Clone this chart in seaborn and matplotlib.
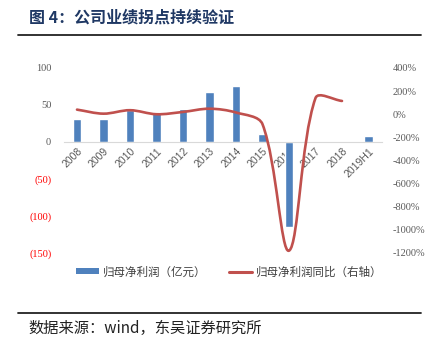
import numpy as np
import pandas as pd
import matplotlib
matplotlib.use("Agg")
import matplotlib.pyplot as plt
from matplotlib.path import Path
from matplotlib.patches import PathPatch
from matplotlib.lines import Line2D
from matplotlib.patches import Patch
import seaborn as sns

# ---- data ----
categories = ["2008", "2009", "2010", "2011", "2012", "2013", "2014",
              "2015", "2016", "2017", "2018", "2019H1"]
net_profit = [31, 31, 43, 40.5, 45, 67, 75, 10.5, -114.5, np.nan, np.nan, 8.7]
yoy_pct = [40, 5, 35, 0, 20, 48, 15, -86, -1180, 140, 115]
left_ticks = [100, 50, 0, -50, -100, -150]
right_ticks = [400, 200, 0, -200, -400, -600, -800, -1000, -1200]
bar_label = "归母净利润（亿元）"
line_label = "归母净利润同比（右轴）"
title_text = "图 4：公司业绩拐点持续验证"
source_text = "数据来源：wind，东吴证券研究所"

sns.set_theme(style="white")
plt.rcParams['font.family'] = ['Noto Sans CJK SC', 'DejaVu Sans']

BLUE = "#4F81BD"
RED = "#C0504D"
GRAY = "#595959"

AX_W, AX_H = 318, 185
fig = plt.figure(figsize=(4.37, 3.42), dpi=100)
ax = fig.add_axes([63.75 / 437, 89 / 342, AX_W / 437, AX_H / 342])

df = pd.DataFrame({"cat": categories, "val": net_profit})
sns.barplot(data=df, x="cat", y="val", order=categories, color=BLUE,
            width=0.33, saturation=1, ax=ax)
ax.set_xlim(-0.5, len(categories) - 0.5)
ax.set_ylim(-150, 100)
ax.set_yticks(left_ticks)
ax.set_yticklabels([str(v) if v >= 0 else f"({-v})" for v in left_ticks],
                   family="Liberation Serif", fontsize=7.5)
for lab, v in zip(ax.get_yticklabels(), left_ticks):
    lab.set_color("red" if v < 0 else GRAY)
ax.tick_params(axis="y", length=0, pad=9)
ax.set_xlabel("")
ax.set_ylabel("")
for s in ["top", "right", "left"]:
    ax.spines[s].set_visible(False)
ax.spines["bottom"].set_position(("data", 0))
ax.spines["bottom"].set_color("#D9D9D9")
ax.spines["bottom"].set_linewidth(0.8)
ax.tick_params(axis="x", length=0, pad=3)
for lab in ax.get_xticklabels():
    lab.set_rotation(45)
    lab.set_ha("right")
    lab.set_va("top")
    lab.set_rotation_mode("anchor")
    lab.set_fontsize(7.5)
    lab.set_family("Liberation Sans")
    lab.set_color(GRAY)
ax.grid(False)

# ---- right axis: smoothed line (Excel-style Bezier through data points) ----
ax2 = ax.twinx()
ymin, ymax = -1200, 400
ax2.set_ylim(ymin, ymax)
ax2.set_yticks(right_ticks)
ax2.set_yticklabels([f"{v}%" for v in right_ticks], family="Liberation Serif",
                    fontsize=7.5, color=GRAY)
ax2.tick_params(axis="y", length=0, pad=8)
for s in ax2.spines.values():
    s.set_visible(False)
ax2.grid(False)

xs = np.arange(len(yoy_pct), dtype=float)
ys = np.array(yoy_pct, dtype=float)
sx = AX_W / len(categories)
sy = AX_H / (ymax - ymin)


def dist(a, b):
    return np.hypot((b[0] - a[0]) * sx, (b[1] - a[1]) * sy)


n = len(xs)
pts = list(zip(xs, ys))
verts = [pts[0]]
codes = [Path.MOVETO]
for i in range(n - 1):
    p0 = pts[max(i - 1, 0)]
    p1 = pts[i]
    p2 = pts[i + 1]
    p3 = pts[min(i + 2, n - 1)]
    d01, d12, d23 = dist(p0, p1), dist(p1, p2), dist(p2, p3)
    f1 = d12 / (d01 + d12) / 3
    f2 = d12 / (d12 + d23) / 3
    c1 = (p1[0] + (p2[0] - p0[0]) * f1, p1[1] + (p2[1] - p0[1]) * f1)
    c2 = (p2[0] - (p3[0] - p1[0]) * f2, p2[1] - (p3[1] - p1[1]) * f2)
    verts += [c1, c2, p2]
    codes += [Path.CURVE4] * 3
patch = PathPatch(Path(verts, codes), facecolor="none", edgecolor=RED,
                  linewidth=1.9, capstyle="round", joinstyle="round")
ax2.add_patch(patch)
ax2.set_xlim(-0.5, len(categories) - 0.5)

# ---- legend ----
handles = [Patch(facecolor=BLUE, edgecolor="none"),
           Line2D([0], [0], color=RED, lw=2.2)]
fig.legend(handles, [bar_label, line_label], loc="center",
           bbox_to_anchor=(229 / 437, 1 - 272 / 342), ncol=2, frameon=False,
           fontsize=8.3, handlelength=2.0, handleheight=0.45, columnspacing=2.0,
           handletextpad=0.3, labelcolor="#404040")

# ---- title, rules, source ----
fig.text(29 / 437, 1 - 18 / 342, title_text, fontsize=11.5, fontweight="bold",
         color="#1F3864", ha="left", va="center")
fig.add_artist(Line2D([18 / 437, 421 / 437], [1 - 35 / 342] * 2,
                      color="#222222", lw=1.3, transform=fig.transFigure))
fig.add_artist(Line2D([18 / 437, 421 / 437], [1 - 313 / 342] * 2,
                      color="#222222", lw=1.3, transform=fig.transFigure))
fig.text(28 / 437, 1 - 328 / 342, source_text, fontsize=11, color="#222222",
         ha="left", va="center")

fig.savefig("out.png", dpi=100)
